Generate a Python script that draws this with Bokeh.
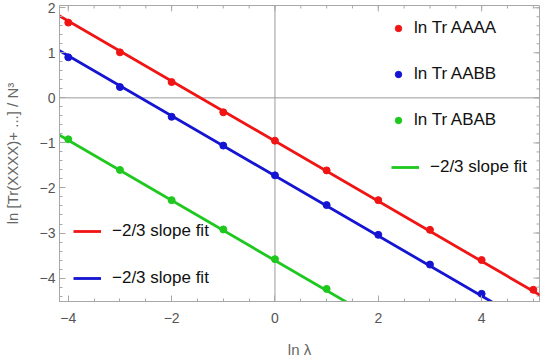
import numpy as np
from bokeh.plotting import figure
from bokeh.models import (Span, Legend, LegendItem, SingleIntervalTicker,
                          CustomJSTickFormatter, Range1d)
from bokeh.embed import file_html
from bokeh.resources import INLINE

# ---- data ----
ln_lambda = [-4, -3, -2, -1, 0, 1, 2, 3, 4, 5]
ln_tr_aaaa = [1.67, 1.01, 0.35, -0.32, -0.95, -1.61, -2.27, -2.93, -3.60, -4.26]
ln_lambda_aabb = [-4, -3, -2, -1, 0, 1, 2, 3, 4]
ln_tr_aabb = [0.90, 0.24, -0.42, -1.06, -1.72, -2.38, -3.04, -3.70, -4.35]
ln_lambda_abab = [-4, -3, -2, -1, 0, 1]
ln_tr_abab = [-0.92, -1.60, -2.27, -2.92, -3.58, -4.24]
fit_slope = -2.0 / 3.0
fit_intercepts = {"AAAA": -0.96, "AABB": -1.73, "ABAB": -3.61}
fit_x = [-4.6, 5.6]

X0, X1 = -4.17, 5.12
Y0, Y1 = -4.52, 2.05

RED = "#f01414"
BLUE = "#1414d2"
GREEN = "#1ec81e"
FRAME = "#a8a8a8"
FONT = "Liberation Sans"

p = figure(width=541, height=360, output_backend="svg", toolbar_location=None,
           x_range=Range1d(X0, X1), y_range=Range1d(Y0, Y1),
           min_border_left=59, min_border_right=2, min_border_top=5,
           min_border_bottom=57)
p.grid.visible = False
p.outline_line_color = FRAME
p.outline_line_width = 1
p.background_fill_color = "white"
p.border_fill_color = "white"

# zero lines
p.add_layout(Span(location=0, dimension="width", line_color="#9a9a9a",
                  line_width=1, level="underlay"))
p.add_layout(Span(location=0, dimension="height", line_color="#9a9a9a",
                  line_width=1, level="underlay"))

fmt = CustomJSTickFormatter(code="return tick < 0 ? '\\u2212' + (-tick) : '' + tick;")

for ax in (p.xaxis[0], p.yaxis[0]):
    ax.axis_line_color = FRAME
    ax.major_tick_line_color = FRAME
    ax.minor_tick_line_color = FRAME
    ax.major_tick_out = 0
    ax.minor_tick_out = 0
    ax.major_tick_in = 6
    ax.minor_tick_in = 3
    ax.major_label_text_font = FONT
    ax.major_label_text_font_size = "14px"
    ax.major_label_text_color = "#555555"
    ax.axis_label_text_font = FONT
    ax.axis_label_text_font_size = "15px"
    ax.axis_label_text_color = "#666666"
    ax.axis_label_text_font_style = "normal"
    ax.formatter = fmt

p.xaxis.ticker = SingleIntervalTicker(interval=2, num_minor_ticks=4)
p.yaxis.ticker = SingleIntervalTicker(interval=1, num_minor_ticks=5)
p.xaxis.axis_label = "ln λ"
p.yaxis.axis_label = "ln [Tr(XXXX)+ ...] / N³"
p.xaxis.major_label_standoff = 11
p.xaxis.axis_label_standoff = 15
p.yaxis.major_label_standoff = 4
p.yaxis.axis_label_standoff = 16

# inward ticks on top and right frame edges
top_major = np.arange(-4, 5, 2)
top_minor = np.arange(-4, 5.01, 0.5)
right_major = np.arange(-4, 3, 1)
right_minor = np.arange(-4.4, 2.01, 0.2)
ty = (Y1 - Y0) / 298.0   # data units per pixel (vertical)
tx = (X1 - X0) / 480.0   # data units per pixel (horizontal)
p.segment(x0=top_minor, y0=[Y1] * len(top_minor), x1=top_minor,
          y1=[Y1 - 3 * ty] * len(top_minor), line_color=FRAME, line_width=1)
p.segment(x0=top_major, y0=[Y1] * len(top_major), x1=top_major,
          y1=[Y1 - 6 * ty] * len(top_major), line_color=FRAME, line_width=1)
p.segment(x0=[X1] * len(right_minor), y0=right_minor, x1=[X1 - 3 * tx] * len(right_minor),
          y1=right_minor, line_color=FRAME, line_width=1)
p.segment(x0=[X1] * len(right_major), y0=right_major, x1=[X1 - 6 * tx] * len(right_major),
          y1=right_major, line_color=FRAME, line_width=1)

LW = 2.8
def fit_y(b):
    return [b + fit_slope * xv for xv in fit_x]

l_red = p.line(fit_x, fit_y(fit_intercepts["AAAA"]), line_color=RED, line_width=LW)
l_blue = p.line(fit_x, fit_y(fit_intercepts["AABB"]), line_color=BLUE, line_width=LW)
l_green = p.line(fit_x, fit_y(fit_intercepts["ABAB"]), line_color=GREEN, line_width=LW)

s_red = p.scatter(ln_lambda, ln_tr_aaaa, size=7, fill_color=RED, line_color=RED)
s_blue = p.scatter(ln_lambda_aabb, ln_tr_aabb, size=7, fill_color=BLUE, line_color=BLUE)
s_green = p.scatter(ln_lambda_abab, ln_tr_abab, size=7, fill_color=GREEN, line_color=GREEN)

def make_legend(items, loc, glyph_w, glyph_h, standoff, spacing):
    return Legend(items=items, location=loc, orientation="vertical",
                  glyph_width=glyph_w, glyph_height=glyph_h, label_height=20,
                  label_standoff=standoff, spacing=spacing, padding=0, margin=0,
                  border_line_alpha=0, background_fill_alpha=0,
                  label_text_font=FONT, label_text_font_size="17px",
                  label_text_color="#111111")

leg_pts = make_legend([LegendItem(label="ln Tr AAAA", renderers=[s_red]),
                       LegendItem(label="ln Tr AABB", renderers=[s_blue]),
                       LegendItem(label="ln Tr ABAB", renderers=[s_green])],
                      (331, 171), 16, 16, 8, 26)
leg_green = make_legend([LegendItem(label="−2/3 slope fit", renderers=[l_green])],
                        (332, 124), 28, 20, 11, 26)
leg_rb = make_legend([LegendItem(label="−2/3 slope fit", renderers=[l_red]),
                      LegendItem(label="−2/3 slope fit", renderers=[l_blue])],
                     (14, 13), 28, 20, 11, 27)
for lg in (leg_pts, leg_green, leg_rb):
    p.add_layout(lg)

open("out.html", "w").write(file_html(p, INLINE))
